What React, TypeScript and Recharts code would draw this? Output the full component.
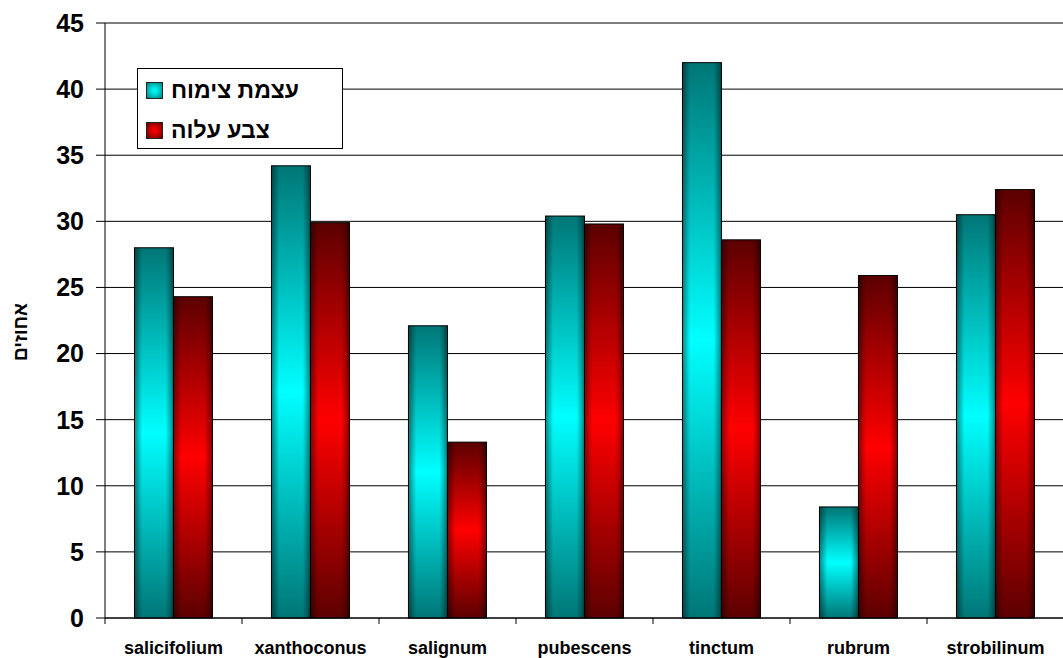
import {
  BarChart,
  Bar,
  XAxis,
  YAxis,
  CartesianGrid,
  Legend,
} from "recharts";

const categories = [
  "salicifolium",
  "xanthoconus",
  "salignum",
  "pubescens",
  "tinctum",
  "rubrum",
  "strobilinum",
];
const growthValues = [28.0, 34.2, 22.1, 30.4, 42.0, 8.4, 30.5];
const leafColorValues = [24.3, 29.9, 13.3, 29.8, 28.6, 25.9, 32.4];
const yTicks = [0, 5, 10, 15, 20, 25, 30, 35, 40, 45];
const seriesNames = ["עצמת צימוח", "צבע עלוה"];
const yTitle = "אחוזים";

const data = categories.map((name, i) => ({
  name,
  growth: growthValues[i],
  leaf: leafColorValues[i],
}));

const FONT = "'Liberation Sans', Arial, sans-serif";
const X_TICK_SIZE = 6;
const X_TICK_MARGIN = 17;

// bar with a "from center" style gradient: vertical glow + dark side edges
const GradientBar = (props: any) => {
  const { x, y, width, height, gradient } = props;
  if (!height || height <= 0) return <g />;
  return (
    <g>
      <rect x={x} y={y} width={width} height={height} fill={`url(#${gradient})`} />
      <rect x={x} y={y} width={width} height={height} fill="url(#edgeShade)" />
      <rect
        x={x}
        y={y}
        width={width}
        height={height}
        fill="none"
        stroke="#000"
        strokeWidth={1}
      />
    </g>
  );
};

// category label + tick mark on the left edge of the band (excel style)
const CategoryTick = (props: any) => {
  const { x, y, payload } = props;
  const axisY = y - X_TICK_SIZE - X_TICK_MARGIN;
  const left = x - (payload.offset || 0);
  return (
    <g>
      <line
        x1={left}
        x2={left}
        y1={axisY}
        y2={axisY + X_TICK_SIZE}
        stroke="#000"
      />
      <text
        x={x}
        y={y}
        dy="0.71em"
        textAnchor="middle"
        fill="#000"
        fontSize={18}
        fontWeight="bold"
        fontFamily={FONT}
      >
        {payload.value}
      </text>
    </g>
  );
};

const legendSwatch = [
  "radial-gradient(circle, #00ffff 0%, #00c8c8 50%, #007878 100%)",
  "radial-gradient(circle, #ff0000 0%, #c00000 50%, #600000 100%)",
];

const renderLegend = () => (
  <div
    style={{
      width: 204,
      height: 79,
      border: "1px solid #000",
      background: "#fff",
      fontFamily: FONT,
      fontWeight: "bold",
      fontSize: 23,
      boxSizing: "content-box",
    }}
  >
    {seriesNames.map((name, i) => (
      <div
        key={name}
        style={{
          display: "flex",
          alignItems: "center",
          height: 40,
          paddingLeft: 8,
          marginTop: i === 0 ? 1 : 0,
        }}
      >
        <span
          style={{
            display: "inline-block",
            width: 15,
            height: 15,
            border: "1px solid #222",
            background: legendSwatch[i],
            marginRight: 8,
          }}
        />
        <span style={{ direction: "rtl" }}>{name}</span>
      </div>
    ))}
  </div>
);

const App = () => {
  return (
    <div
      style={{
        position: "absolute",
        left: 0,
        top: 0,
        width: 1063,
        height: 658,
        overflow: "hidden",
        background: "#fff",
      }}
    >
      <BarChart
        width={1064}
        height={658}
        data={data}
        margin={{ top: 23, right: 0, bottom: 0, left: 0 }}
        barCategoryGap="21.5%"
        barGap={0}
      >
        <defs>
          <linearGradient id="tealV" x1="0" y1="0" x2="0" y2="1">
            <stop offset="0%" stopColor="#007676" />
            <stop offset="50%" stopColor="#00ffff" />
            <stop offset="100%" stopColor="#007676" />
          </linearGradient>
          <linearGradient id="redV" x1="0" y1="0" x2="0" y2="1">
            <stop offset="0%" stopColor="#5c0000" />
            <stop offset="50%" stopColor="#ff0000" />
            <stop offset="100%" stopColor="#5c0000" />
          </linearGradient>
          <linearGradient id="edgeShade" x1="0" y1="0" x2="1" y2="0">
            <stop offset="0%" stopColor="#000" stopOpacity={0.45} />
            <stop offset="20%" stopColor="#000" stopOpacity={0} />
            <stop offset="80%" stopColor="#000" stopOpacity={0} />
            <stop offset="100%" stopColor="#000" stopOpacity={0.45} />
          </linearGradient>
        </defs>
        <CartesianGrid vertical={false} stroke="#000" strokeWidth={1} />
        <XAxis
          dataKey="name"
          height={40}
          axisLine={{ stroke: "#000" }}
          tickLine={false}
          tickSize={X_TICK_SIZE}
          tickMargin={X_TICK_MARGIN}
          interval={0}
          tick={<CategoryTick />}
        />
        <YAxis
          width={105}
          domain={[0, 45]}
          ticks={yTicks}
          interval={0}
          axisLine={{ stroke: "#000" }}
          tickLine={{ stroke: "#000" }}
          tickSize={9}
          tickMargin={12}
          tick={{
            fill: "#000",
            fontSize: 25,
            fontWeight: "bold",
            fontFamily: FONT,
          }}
          label={{
            content: () => (
              <text
                x={20}
                y={332}
                transform="rotate(-90 20 332)"
                textAnchor="middle"
                dominantBaseline="central"
                fontSize={19}
                fontWeight="bold"
                fontFamily={FONT}
                fill="#000"
              >
                {yTitle}
              </text>
            ),
          }}
        />
        <Legend
          layout="vertical"
          align="center"
          verticalAlign="middle"
          content={renderLegend}
          wrapperStyle={{ left: 137, top: 68, width: 206 }}
        />
        <Bar
          dataKey="growth"
          name={seriesNames[0]}
          isAnimationActive={false}
          shape={(p: any) => <GradientBar {...p} gradient="tealV" />}
        />
        <Bar
          dataKey="leaf"
          name={seriesNames[1]}
          isAnimationActive={false}
          shape={(p: any) => <GradientBar {...p} gradient="redV" />}
        />
      </BarChart>
    </div>
  );
};

export default App;
